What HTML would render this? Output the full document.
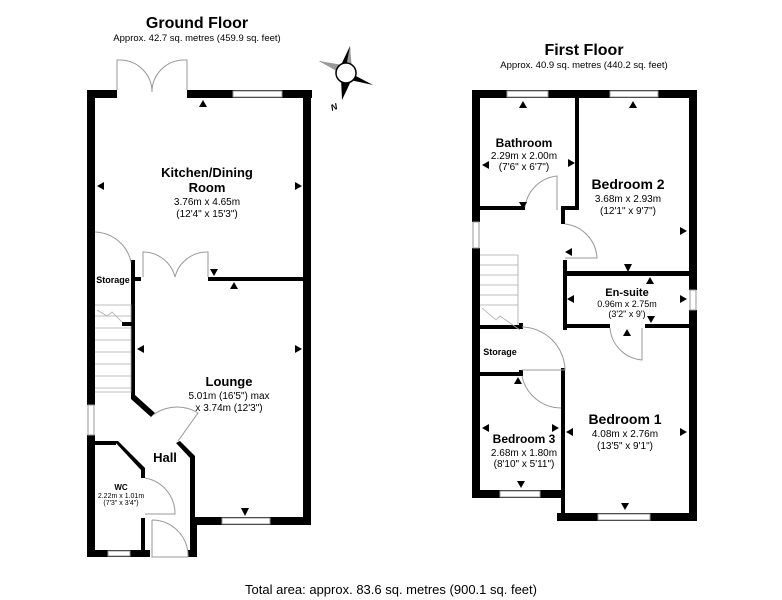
<!DOCTYPE html>
<html><head><meta charset="utf-8"><style>
html,body{margin:0;padding:0;background:#fff;}
svg{display:block;font-family:"Liberation Sans",Arial,sans-serif;}
.w{fill:#000}
.win{fill:#fff;stroke:#999;stroke-width:1}
.d{fill:none;stroke:#999;stroke-width:1}
.b{font-weight:bold;text-anchor:middle}
.t{text-anchor:middle}
</style></head><body>
<svg width="782" height="600" viewBox="0 0 782 600">
<text x="197" y="28" class="b" font-size="16">Ground Floor</text>
<text x="197" y="41" class="t" font-size="9.5">Approx. 42.7 sq. metres (459.9 sq. feet)</text>
<text x="584" y="55" class="b" font-size="16">First Floor</text>
<text x="584" y="68" class="t" font-size="9.5">Approx. 40.9 sq. metres (440.2 sq. feet)</text>
<text x="391" y="594" class="t" font-size="13">Total area: approx. 83.6 sq. metres (900.1 sq. feet)</text>

<g transform="translate(346,73)">
<polygon points="-5,-8 4,-27 5,-5" fill="#000"/>
<polygon points="0,-6 4,-27 6,-3" fill="#999"/>
<polygon points="8,2 27,12 4,7" fill="#000"/>
<polygon points="-8,-2 -27,-12 -4,-7" fill="#000"/>
<polygon points="-6,0 -27,-12 -3,-8" fill="#999"/>
<polygon points="5,8 -4,27 -5,5" fill="#000"/>
<circle r="10" fill="#fff" stroke="#000" stroke-width="1.5"/>
<text x="-14" y="38" font-size="9" font-style="italic" font-weight="bold" transform="rotate(-20 -14 38)">N</text>
</g>

<rect class="w" x="87" y="90" width="30" height="8"/>
<rect class="w" x="187" y="90" width="125" height="8"/>
<rect class="w" x="87" y="90" width="8" height="315"/>
<rect class="w" x="87" y="435" width="8" height="122"/>
<rect class="w" x="303" y="90" width="8" height="435"/>
<rect class="w" x="193" y="517" width="118" height="8"/>
<rect class="w" x="87" y="550" width="63" height="7"/>
<rect class="w" x="208" y="277" width="95" height="4"/>
<rect class="w" x="131" y="260" width="4" height="137"/>
<rect class="w" x="135" y="277" width="6" height="4"/>
<polygon class="w" points="131,395 135,395 155,413 151,417 131,399"/>
<rect class="w" x="95" y="441" width="21" height="4"/>
<polygon class="w" points="114,441 118,441 145,468 145,478 141,478 141,470"/>
<rect class="w" x="141" y="518" width="4" height="35"/>
<polygon class="w" points="176,443 180,441 195,456 195,556 190,556 190,458"/>
<rect class="w" x="188" y="550" width="7" height="7"/>
<rect class="w" x="193" y="517" width="4" height="40"/>
<rect class="win" x="233" y="91" width="49" height="6"/>
<rect class="win" x="222" y="518" width="48" height="6"/>
<rect class="win" x="88" y="405" width="6" height="30"/>
<rect class="win" x="108" y="551" width="22" height="5"/>
<path class="d" d="M117,90 V60 H120 A32,32 0 0 1 152,92 M187,90 V60 H184 A32,32 0 0 0 152,92"/>
<path class="d" d="M143,277 V252 A33,33 0 0 1 175,277 M208,277 V252 A33,33 0 0 0 175,277"/>
<path class="d" d="M95,232 A38,38 0 0 1 131,262"/>
<path class="d" d="M153,415 A40,40 0 0 1 198,413 L178,441"/>
<path class="d" d="M145,478 A36,36 0 0 1 175,514 L145,514"/>
<path class="d" d="M152,520 V557 H188 V555 A36,36 0 0 0 152,520"/>
<g stroke="#aaa" stroke-width="0.8" fill="none">
<path d="M95,305 H131 V392 H95"/>
<path d="M95,316 H131 M95,328 H131 M95,340 H131 M95,352 H131 M95,364 H131 M95,376 H131 M95,388 H131"/>
<path d="M97,310 L107,316 L112,312 L124,324"/>
</g>
<rect class="w" x="122" y="322" width="10" height="4"/>
<g fill="#000">
<polygon points="203,100 199,107 207,107"/>
<polygon points="97,186 104,182 104,190"/>
<polygon points="302,186 295,182 295,190"/>
<polygon points="214,276 210,269 218,269"/>
<polygon points="234,282 230,289 238,289"/>
<polygon points="137,349 144,345 144,353"/>
<polygon points="302,349 295,345 295,353"/>
<polygon points="245,516 241,508 249,508"/>
</g>
<text x="113" y="283" class="b" font-size="9">Storage</text>
<text x="207" y="177" class="b" font-size="13">Kitchen/Dining</text>
<text x="207" y="192" class="b" font-size="13">Room</text>
<text x="207" y="205" class="t" font-size="10">3.76m x 4.65m</text>
<text x="207" y="217" class="t" font-size="10">(12'4" x 15'3")</text>
<text x="229" y="386" class="b" font-size="13">Lounge</text>
<text x="229" y="399" class="t" font-size="10">5.01m (16'5") max</text>
<text x="229" y="411" class="t" font-size="10">x 3.74m (12'3")</text>
<text x="165" y="462" class="b" font-size="13">Hall</text>
<text x="121" y="490" class="b" font-size="8">WC</text>
<text x="121" y="498" class="t" font-size="7">2.22m x 1.01m</text>
<text x="121" y="505" class="t" font-size="7">(7'3" x 3'4")</text>

<rect class="w" x="472" y="90" width="225" height="8"/>
<rect class="w" x="472" y="90" width="8" height="132"/>
<rect class="w" x="472" y="248" width="8" height="250"/>
<rect class="w" x="689" y="90" width="8" height="200"/>
<rect class="w" x="689" y="310" width="8" height="211"/>
<rect class="w" x="575" y="98" width="4" height="112"/>
<rect class="w" x="480" y="206" width="45" height="4"/>
<rect class="w" x="561" y="206" width="18" height="4"/>
<rect class="w" x="561" y="206" width="4" height="18"/>
<rect class="w" x="563" y="260" width="4" height="70"/>
<rect class="w" x="565" y="271" width="124" height="5"/>
<rect class="w" x="565" y="324" width="45" height="4"/>
<rect class="w" x="645" y="324" width="44" height="4"/>
<rect class="w" x="480" y="325" width="42" height="4"/>
<rect class="w" x="480" y="372" width="42" height="4"/>
<rect class="w" x="519" y="323" width="4" height="6"/>
<rect class="w" x="519" y="370" width="4" height="6"/>
<rect class="w" x="561" y="368" width="4" height="152"/>
<rect class="w" x="472" y="490" width="93" height="8"/>
<rect class="w" x="557" y="513" width="140" height="8"/>
<rect class="win" x="507" y="91" width="41" height="6"/>
<rect class="win" x="610" y="91" width="48" height="6"/>
<rect class="win" x="473" y="222" width="6" height="26"/>
<rect class="win" x="690" y="290" width="6" height="20"/>
<rect class="win" x="500" y="491" width="40" height="6"/>
<rect class="win" x="598" y="514" width="52" height="6"/>
<path class="d" d="M525,207 A36,36 0 0 1 557,176 V210"/>
<path class="d" d="M565,224 A36,36 0 0 1 597,258 H565"/>
<path class="d" d="M610,328 A35,35 0 0 0 642,360 V328"/>
<path class="d" d="M522,327 A44,44 0 0 1 565,370 H522"/>
<path class="d" d="M522,376 A40,40 0 0 0 561,408"/>
<g stroke="#aaa" stroke-width="0.8" fill="none">
<path d="M480,255 H518 V325"/>
<path d="M480,265 H518 M480,275 H518 M480,285 H518 M480,295 H518 M480,305 H518"/>
<path d="M482,308 L496,320 L500,316 L520,330"/>
</g>
<g fill="#000">
<polygon points="523,101 519,108 527,108"/>
<polygon points="633,101 629,108 637,108"/>
<polygon points="482,165 489,161 489,169"/>
<polygon points="575,163 568,159 568,167"/>
<polygon points="523,209 519,202 527,202"/>
<polygon points="687,231 680,227 680,235"/>
<polygon points="565,252 572,248 572,256"/>
<polygon points="628,272 624,264 632,264"/>
<polygon points="650,277 646,284 654,284"/>
<polygon points="567,299 574,295 574,303"/>
<polygon points="687,299 680,295 680,303"/>
<polygon points="651,323 647,316 655,316"/>
<polygon points="627,329 623,336 631,336"/>
<polygon points="518,377 514,384 522,384"/>
<polygon points="482,428 489,424 489,432"/>
<polygon points="559,428 552,424 552,432"/>
<polygon points="566,432 573,428 573,436"/>
<polygon points="687,432 680,428 680,436"/>
<polygon points="521,488 517,481 525,481"/>
<polygon points="625,510 621,503 629,503"/>
</g>
<text x="524" y="147" class="b" font-size="12">Bathroom</text>
<text x="524" y="159" class="t" font-size="10">2.29m x 2.00m</text>
<text x="524" y="170" class="t" font-size="10">(7'6" x 6'7")</text>
<text x="628" y="189" class="b" font-size="14">Bedroom 2</text>
<text x="628" y="202" class="t" font-size="10">3.68m x 2.93m</text>
<text x="628" y="214" class="t" font-size="10">(12'1" x 9'7")</text>
<text x="627" y="296" class="b" font-size="11">En-suite</text>
<text x="627" y="307" class="t" font-size="9">0.96m x 2.75m</text>
<text x="627" y="317" class="t" font-size="9">(3'2" x 9')</text>
<text x="500" y="355" class="b" font-size="9">Storage</text>
<text x="524" y="443" class="b" font-size="12">Bedroom 3</text>
<text x="524" y="456" class="t" font-size="10">2.68m x 1.80m</text>
<text x="524" y="467" class="t" font-size="10">(8'10" x 5'11")</text>
<text x="625" y="424" class="b" font-size="14">Bedroom 1</text>
<text x="625" y="437" class="t" font-size="10">4.08m x 2.76m</text>
<text x="625" y="449" class="t" font-size="10">(13'5" x 9'1")</text>
</svg>
</body></html>
